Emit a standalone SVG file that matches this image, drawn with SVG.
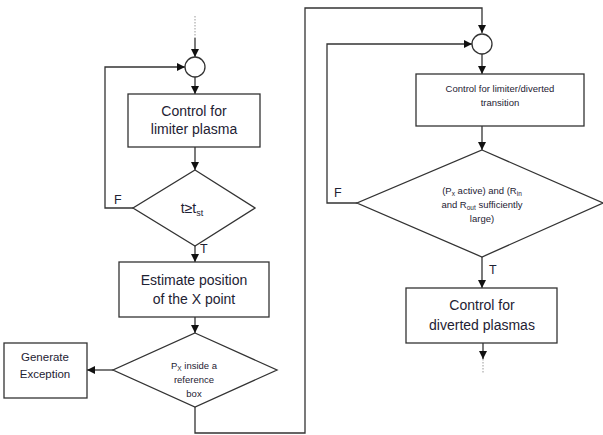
<svg xmlns="http://www.w3.org/2000/svg" width="603" height="435" viewBox="0 0 603 435">
<style>
.s{fill:#fff;stroke:#333;stroke-width:1.3}
.c{fill:none;stroke:#333;stroke-width:1.3}
.d{fill:none;stroke:#999;stroke-width:1;stroke-dasharray:1.5 1.5}
text{font-family:"Liberation Sans",Arial,sans-serif;fill:#1e2233;text-anchor:middle}
.L{font-size:14px}
.M{font-size:11.5px}
.S{font-size:9.5px}
.lab{font-size:12.5px;text-anchor:start}
</style>
<defs>
<marker id="a" viewBox="0 0 10 10" refX="10" refY="5" markerWidth="8" markerHeight="8" markerUnits="userSpaceOnUse" orient="auto"><path d="M0,0L10,5L0,10z" fill="#111"/></marker>
</defs>
<g id="connectors">
<line class="d" x1="195" y1="16" x2="195" y2="38"/>
<line class="c" x1="195" y1="38" x2="195" y2="57" marker-end="url(#a)"/>
<line class="c" x1="195" y1="77" x2="195" y2="94" marker-end="url(#a)"/>
<line class="c" x1="195" y1="147" x2="195" y2="170" marker-end="url(#a)"/>
<polyline class="c" points="133,208 105,208 105,67 185,67" marker-end="url(#a)"/>
<line class="c" x1="195" y1="246" x2="195" y2="262" marker-end="url(#a)"/>
<line class="c" x1="195" y1="317" x2="195" y2="333" marker-end="url(#a)"/>
<line class="c" x1="113" y1="370" x2="87" y2="370" marker-end="url(#a)"/>
<polyline class="c" points="195,407 195,433 305,433 305,8 482,8 482,33" marker-end="url(#a)"/>
<polyline class="c" points="357,203 327,203 327,44 472,44" marker-end="url(#a)"/>
<line class="c" x1="482" y1="54" x2="482" y2="74" marker-end="url(#a)"/>
<line class="c" x1="482" y1="126" x2="482" y2="150" marker-end="url(#a)"/>
<line class="c" x1="482" y1="257" x2="482" y2="288" marker-end="url(#a)"/>
<line class="c" x1="483" y1="343" x2="483" y2="359" marker-end="url(#a)"/>
<line class="d" x1="483" y1="359" x2="483" y2="374"/>
<text class="lab" x="114" y="204">F</text>
<text class="lab" x="200" y="253">T</text>
<text class="lab" x="334" y="197">F</text>
<text class="lab" x="489" y="274">T</text>
</g>
<g id="join1"><circle class="s" cx="195" cy="67" r="10"/></g>
<g id="limiter"><rect class="s" x="128" y="94" width="132" height="53"/>
<text class="L" x="194" y="116">Control for</text><text class="L" x="194" y="134">limiter plasma</text></g>
<g id="tcheck"><polygon class="s" points="195,170 255,208 195,246 133,208"/>
<text class="L" x="192" y="213">t≥t<tspan font-size="9" dy="3">st</tspan></text></g>
<g id="estimate"><rect class="s" x="119" y="262" width="150" height="55"/>
<text class="L" x="194" y="285">Estimate position</text><text class="L" x="194" y="304">of the X point</text></g>
<g id="pxcheck"><polygon class="s" points="195,333 277,370 195,407 113,370"/>
<text class="S" x="194" y="369">P<tspan font-size="6.5" dy="2">X</tspan><tspan dy="-2"> inside a</tspan></text>
<text class="S" x="194" y="383">reference</text><text class="S" x="194" y="397">box</text></g>
<g id="exception"><rect class="s" x="4" y="343" width="83" height="55"/>
<text class="M" x="45" y="361">Generate</text><text class="M" x="45" y="378">Exception</text></g>
<g id="join2"><circle class="s" cx="482" cy="44" r="10"/></g>
<g id="transition"><rect class="s" x="416" y="74" width="168" height="52"/>
<text class="S" x="500" y="92">Control for limiter/diverted</text><text class="S" x="500" y="106">transition</text></g>
<g id="activecheck"><polygon class="s" points="482,150 603,203 482,257 357,203"/>
<text class="S" x="482" y="194">(P<tspan font-size="6.5" dy="2">x</tspan><tspan dy="-2"> active) and (R</tspan><tspan font-size="6.5" dy="2">in</tspan></text>
<text class="S" x="482" y="208">and R<tspan font-size="6.5" dy="2">out</tspan><tspan dy="-2"> sufficiently</tspan></text>
<text class="S" x="482" y="222">large)</text></g>
<g id="diverted"><rect class="s" x="406" y="288" width="151" height="55"/>
<text class="L" x="482" y="310">Control for</text><text class="L" x="482" y="330">diverted plasmas</text></g>
</svg>
